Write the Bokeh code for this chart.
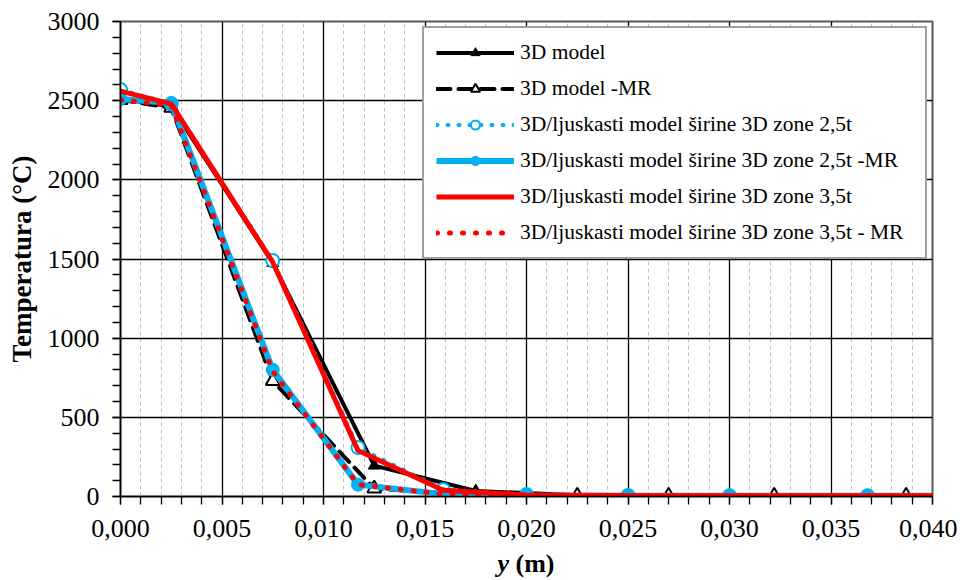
from bokeh.plotting import figure
from bokeh.models import SingleIntervalTicker, CustomJSTickFormatter, Range1d, Div
from bokeh.layouts import column
from bokeh.embed import file_html
from bokeh.resources import INLINE

# ---- data (y in m, temperature in °C) ----
x_3d = [0.0, 0.0025, 0.0075, 0.0125, 0.0175, 0.0225, 0.027, 0.0322, 0.0387, 0.046]
t_3d = [2510, 2465, 1475, 195, 35, 8, 5, 5, 5, 5]
t_3d_mr = [2505, 2455, 730, 50, 10, 5, 4, 4, 4, 4]

x_sh = [0.0, 0.0025, 0.0075, 0.0117, 0.0159, 0.020, 0.025, 0.030, 0.0368, 0.045]
t_25 = [2570, 2480, 1490, 310, 45, 12, 6, 5, 5, 5]
t_25_mr = [2510, 2485, 800, 75, 15, 6, 5, 5, 5, 5]
t_35 = [2560, 2480, 1480, 290, 40, 10, 6, 5, 5, 5]
t_35_mr = [2505, 2470, 790, 75, 15, 6, 5, 5, 5, 5]

labels = [
    "3D model",
    "3D model -MR",
    "3D/ljuskasti model širine 3D zone 2,5t",
    "3D/ljuskasti model širine 3D zone 2,5t -MR",
    "3D/ljuskasti model širine 3D zone 3,5t",
    "3D/ljuskasti model širine 3D zone 3,5t - MR",
]

BLUE = "#00b0f0"
RED = "#ff0000"
SERIF = "Liberation Serif"

p = figure(frame_width=812, frame_height=475,
           x_range=Range1d(0, 0.04), y_range=Range1d(0, 3000),
           output_backend="svg", toolbar_location=None,
           min_border_left=120, min_border_right=25,
           min_border_top=21, min_border_bottom=56)
p.background_fill_color = "white"
p.border_fill_color = "white"
p.outline_line_color = "#595959"
p.outline_line_width = 2

# series
p.line(x_3d, t_3d, color="black", line_width=4, legend_label=labels[0])
p.scatter(x_3d, t_3d, marker="triangle", size=12, color="black", legend_label=labels[0])

p.line(x_3d, t_3d_mr, color="black", line_width=4, line_dash="14 8", line_cap="round",
       legend_label=labels[1])
p.scatter(x_3d, t_3d_mr, marker="triangle", size=14, fill_color="white",
          line_color="black", line_width=2, legend_label=labels[1])

p.line(x_sh, t_25, color=BLUE, line_width=4, line_dash="1 10", line_cap="round",
       legend_label=labels[2])
p.scatter(x_sh, t_25, marker="circle", size=13, fill_color="white",
          line_color=BLUE, line_width=2, legend_label=labels[2])

p.line(x_sh, t_25_mr, color=BLUE, line_width=6, legend_label=labels[3])
p.scatter(x_sh, t_25_mr, marker="circle", size=13, color=BLUE, legend_label=labels[3])

p.line(x_sh, t_35, color=RED, line_width=5, legend_label=labels[4])

p.line(x_sh, t_35_mr, color=RED, line_width=5, line_dash="1 12", line_cap="round",
       legend_label=labels[5])

# axes
p.xaxis.ticker = SingleIntervalTicker(interval=0.005, num_minor_ticks=5)
p.yaxis.ticker = SingleIntervalTicker(interval=500, num_minor_ticks=5)
p.xaxis.formatter = CustomJSTickFormatter(code="return tick.toFixed(3).replace('.', ',');")

for ax in (p.xaxis, p.yaxis):
    ax.axis_line_color = "black"
    ax.axis_line_width = 1.5
    ax.major_tick_line_color = "black"
    ax.minor_tick_line_color = "black"
    ax.major_tick_line_width = 1.3
    ax.minor_tick_line_width = 1.3
    ax.major_tick_in = 0
    ax.minor_tick_in = 0
    ax.major_tick_out = 8
    ax.minor_tick_out = 8
    ax.major_label_text_font = SERIF
    ax.major_label_text_font_size = "26px"
    ax.major_label_text_color = "black"

p.xaxis.major_label_standoff = 15
p.yaxis.major_label_standoff = 13

p.yaxis.axis_label = "Temperatura (°C)"
p.yaxis.axis_label_text_font = SERIF
p.yaxis.axis_label_text_font_size = "27px"
p.yaxis.axis_label_text_font_style = "bold"
p.yaxis.axis_label_text_color = "black"
p.yaxis.axis_label_standoff = 8

# grids
p.xgrid.grid_line_color = "black"
p.xgrid.grid_line_width = 1.3
p.xgrid.minor_grid_line_color = "#c0c0c0"
p.xgrid.minor_grid_line_dash = "4 3"
p.xgrid.minor_grid_line_width = 1
p.ygrid.grid_line_color = "black"
p.ygrid.grid_line_width = 1.3

# legend
lg = p.legend[0]
lg.location = "top_right"
lg.margin = 5
lg.padding = 12
lg.spacing = 11
lg.glyph_width = 78
lg.glyph_height = 23
lg.label_height = 23
lg.label_width = 393
lg.label_standoff = 6
lg.label_text_font = SERIF
lg.label_text_font_size = "21.5px"
lg.label_text_color = "black"
lg.border_line_color = "#404040"
lg.border_line_width = 2
lg.background_fill_color = "white"
lg.background_fill_alpha = 1.0

# x axis title: bold italic "y" + bold "(m)"
xlabel = Div(text="<i>y</i> (m)", width=812, height=24, margin=(0, 0, 0, 120),
             styles={"font-family": "'Liberation Serif', serif", "font-size": "26px",
                     "font-weight": "bold", "text-align": "center", "color": "black",
                     "line-height": "24px"})

layout = column(p, xlabel, spacing=0)
open("out.html", "w").write(file_html(layout, INLINE))
